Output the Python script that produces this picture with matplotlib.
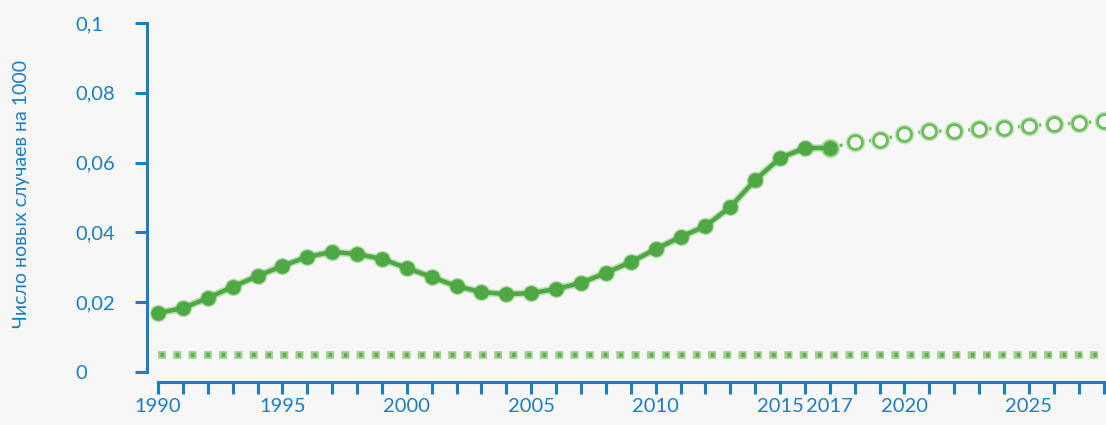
import numpy as np
import matplotlib.pyplot as plt

# reported incidence, 1990-2017
years = list(range(1990, 2018))
rate = [0.0169, 0.0183, 0.0212, 0.0244, 0.0275, 0.0304, 0.0330, 0.0344,
        0.0338, 0.0324, 0.0298, 0.0272, 0.0246, 0.0229, 0.0223, 0.0226,
        0.0238, 0.0255, 0.0284, 0.0315, 0.0352, 0.0387, 0.0418, 0.0473,
        0.0550, 0.0613, 0.0642, 0.0642]

# projection 2017-2028
proj_years = list(range(2017, 2029))
proj_rate = [0.0642, 0.0659, 0.0665, 0.0682, 0.0690, 0.0690, 0.0696,
             0.0699, 0.0705, 0.0711, 0.0713, 0.0719]

# target level
target_years = [1990, 2028]
target_rate = [0.0049, 0.0049]

xlabels = {1990: '1990', 1995: '1995', 2000: '2000', 2005: '2005', 2010: '2010',
           2015: '2015', 2017: '2017', 2020: '2020', 2025: '2025'}
yticks = [0, 0.02, 0.04, 0.06, 0.08, 0.1]
ylabels = ['0', '0,02', '0,04', '0,06', '0,08', '0,1']

blue = '#1a7fc0'
green = '#4ea843'
lgreen = '#6dbd5e'
bg = '#f7f7f7'

plt.rcParams['font.family'] = ['Lato', 'DejaVu Sans']

fig = plt.figure(figsize=(11.06, 4.25), dpi=100)
fig.patch.set_facecolor(bg)
ax = fig.add_axes([158/1106, 1-372/425, 1-158/1106, 349/425])
ax.set_facecolor(bg)

# target line: light squares with a darker core
ax.plot(target_years, target_rate, color='#9dd08f', lw=5.5, ls=(0, (1.05, 0.95)),
        dash_capstyle='butt', clip_on=False, zorder=2)
ax.plot(target_years, target_rate, color='#5aae4b', lw=3.0, ls=(-0.6, (0.8, 2.87)),
        dash_capstyle='butt', clip_on=False, zorder=3)

# projection
ax.plot(proj_years, proj_rate, color=lgreen, lw=2.4, ls=(0, (1, 2.0)),
        marker='o', ms=11, mfc=bg, mec='#c4e5bb', mew=3.2, clip_on=False, zorder=4)
ax.plot(proj_years, proj_rate, color=lgreen, lw=0, marker='o', ms=10,
        mfc=bg, mec=lgreen, mew=2.0, clip_on=False, zorder=5)

# actual
ax.plot(years, rate, color='#9dd18f', lw=5.5, marker='o', ms=11.5, mfc='#9dd18f',
        mec='#9dd18f', alpha=0.6, clip_on=False, zorder=6)
ax.plot(years, rate, color=green, lw=3.2, marker='o', ms=9.5, mfc=green,
        mec=green, clip_on=False, zorder=7)

ax.set_xlim(1990, 2028.1)
ax.set_ylim(0, 0.1)

for s in ['top', 'right']:
    ax.spines[s].set_visible(False)
ax.spines['left'].set_position(('outward', 8))
ax.spines['bottom'].set_position(('outward', 7.5))
for s in ['left', 'bottom']:
    ax.spines[s].set_color(blue)
    ax.spines[s].set_linewidth(2.2)
ax.spines['bottom'].set_bounds(1990, 2028.1)

ax.set_xticks(list(range(1990, 2029)))
ax.set_xticklabels([xlabels.get(y, '') for y in range(1990, 2029)])
ax.set_yticks(yticks)
ax.set_yticklabels(ylabels)
ax.tick_params(axis='both', colors=blue, width=2.2, length=8.5, labelsize=14.5)
ax.tick_params(axis='x', pad=3)
ax.tick_params(axis='y', pad=43)
for lab in ax.get_yticklabels():
    lab.set_ha('left')

ax.set_ylabel('Число новых случаев на 1000', color=blue, fontsize=14)
ax.yaxis.set_label_coords(-128/948, 0.51)

fig.savefig('out.png', facecolor=bg)
